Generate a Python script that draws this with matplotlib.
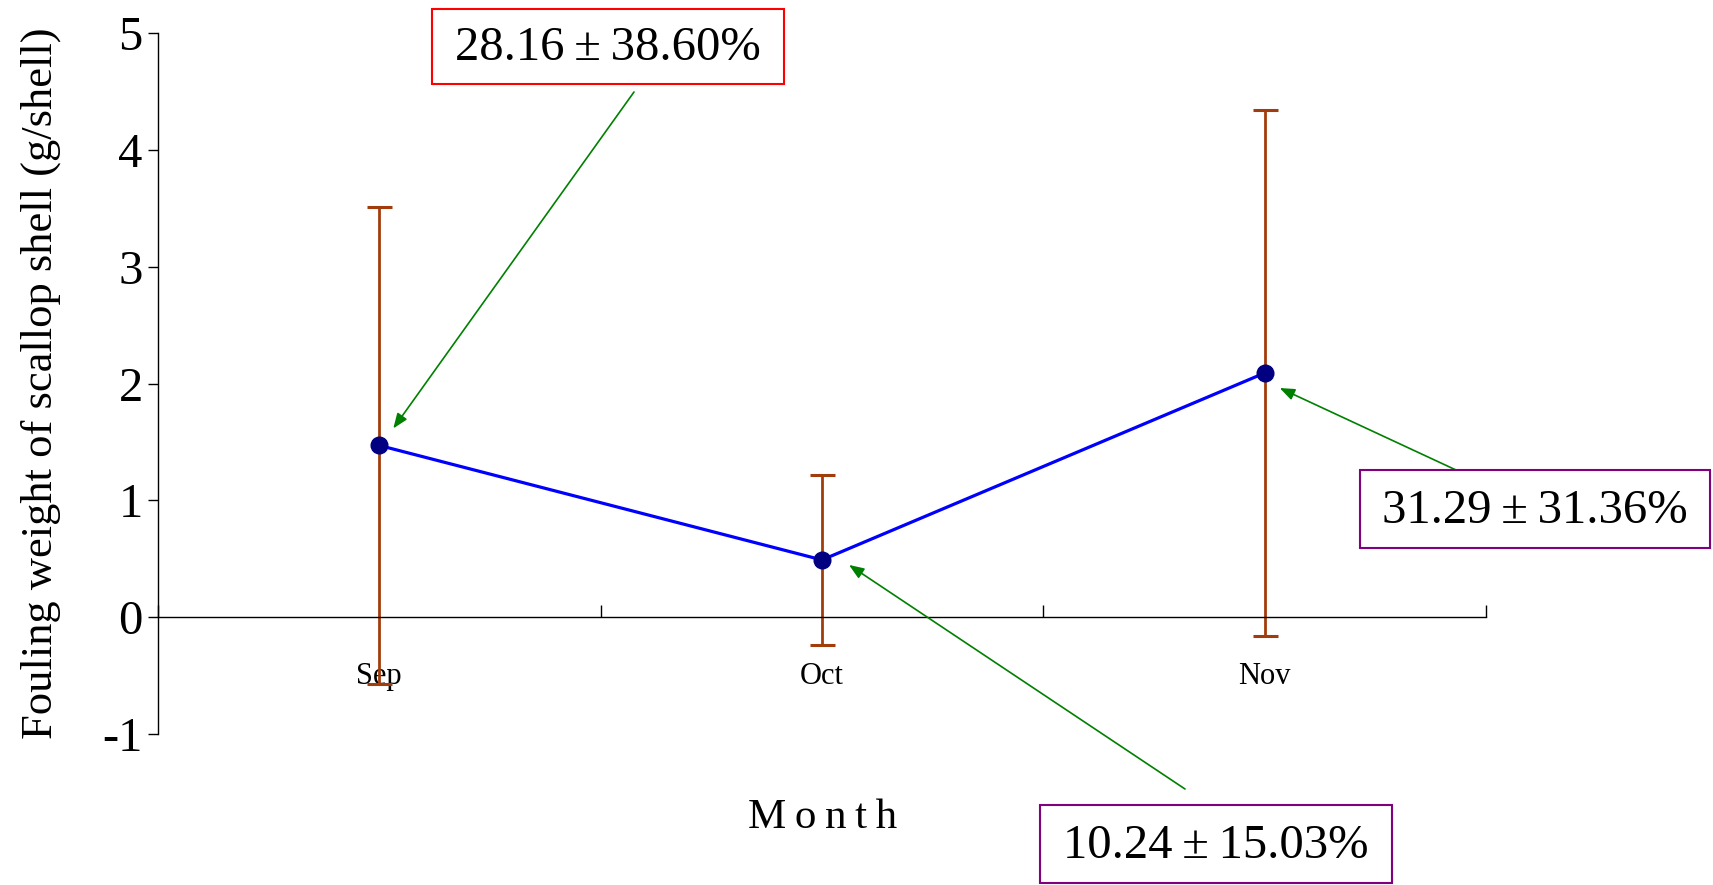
#! /usr/bin/env python3

"""
Fouling weight of scallop shell by month, with mean +/- SD error bars.
"""

import matplotlib
matplotlib.use('Agg')
import matplotlib.pyplot as plt
from matplotlib.patches import Rectangle
from matplotlib.transforms import offset_copy

MONTHS = ['Sep', 'Oct', 'Nov']
WEIGHT = [1.47, 0.49, 2.09]
WEIGHT_SD = [2.04, 0.73, 2.25]
RATIO_LABELS = ['28.16\u2009\u00b1\u200938.60%', '10.24\u2009\u00b1\u200915.03%', '31.29\u2009\u00b1\u200931.36%']
Y_TICKS = [-1, 0, 1, 2, 3, 4, 5]

W, H = 1713, 885
SERIF = ['Liberation Serif', 'DejaVu Serif']


def px(x, y):
    """Top-left pixel position to figure fraction"""
    return x / W, 1 - y / H


def main() -> None:
    plt.rcParams['font.family'] = SERIF

    fig = plt.figure(figsize=(W / 100, H / 100), dpi=100)
    ax = fig.add_axes([0.0922, 0.1706, 0.8675 - 0.0922, 0.9627 - 0.1706])

    xs = list(range(len(MONTHS)))
    ax.errorbar(xs, WEIGHT, yerr=WEIGHT_SD, fmt='none', ecolor='#a33c0c',
                elinewidth=2, capsize=9, capthick=2.2, zorder=2)
    ax.plot(xs, WEIGHT, color='#0000ff', lw=2.3, zorder=3)
    ax.plot(xs, WEIGHT, 'o', color='#000080', ms=12, zorder=4)

    ax.set_xlim(-0.5, 2.5)
    ax.set_ylim(-1, 5)
    ax.spines['top'].set_visible(False)
    ax.spines['right'].set_visible(False)
    ax.spines['bottom'].set_position(('data', 0))
    ax.spines['bottom'].set_linewidth(1)
    ax.spines['left'].set_linewidth(1)

    ax.set_yticks(Y_TICKS)
    ax.set_yticklabels([str(t) for t in Y_TICKS])
    ax.tick_params(axis='y', direction='out', length=7, width=1, labelsize=35, pad=4)

    ax.set_xticks(xs)
    ax.set_xticklabels(MONTHS)
    ax.set_xticks([-0.5, 0.5, 1.5, 2.5], minor=True)
    ax.tick_params(axis='x', which='major', length=0, labelsize=22, pad=32)
    ax.tick_params(axis='x', which='minor', direction='in', length=9, width=1)

    ax.set_ylabel('Fouling weight of scallop shell (g/shell)', fontsize=32, labelpad=30)
    fig.text(0.480, 1 - 818 / H, 'M\u2009o\u2009n\u2009t\u2009h', fontsize=31,
             ha='center', va='center', family=SERIF)

    # text boxes: (centre x, centre y, width, height) in pixels, edge colour
    boxes = [
        (608, 46, 352, 75, '#ff0000'),
        (1216, 844, 352, 78, '#800080'),
        (1535, 509, 350, 78, '#800080'),
    ]
    # arrow tails in pixels and tip offsets from the data point (dots)
    tails = [(634, 92), (1185, 789), (1456, 470)]
    tips = [(14, 17), (27, -5), (15, -15)]

    for i, label in enumerate(RATIO_LABELS):
        cx, cy, bw, bh, ec = boxes[i]
        x0, y0 = px(cx - bw / 2, cy + bh / 2)
        fig.patches.append(Rectangle((x0, y0), bw / W, bh / H, transform=fig.transFigure,
                                     fill=True, facecolor='white', edgecolor=ec, lw=1.5))
        fig.text(*px(cx, cy + 2), label, fontsize=35, ha='center', va='center', family=SERIF)

        tip = offset_copy(ax.transData, fig=fig, x=tips[i][0], y=tips[i][1], units='dots')
        ax.annotate('', xy=(xs[i], WEIGHT[i]), xycoords=tip,
                    xytext=px(*tails[i]), textcoords='figure fraction',
                    arrowprops=dict(arrowstyle='-|>,head_length=0.9,head_width=0.35',
                                    color='#008000', lw=1.2, shrinkA=0, shrinkB=0),
                    annotation_clip=False)

    fig.savefig('out.png', dpi=100)


if __name__ == '__main__':
    main()
